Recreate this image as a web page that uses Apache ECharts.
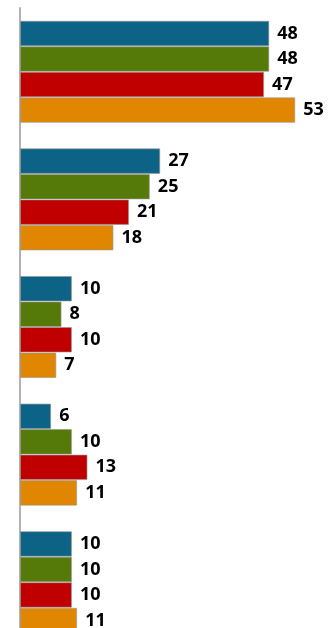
<!DOCTYPE html>
<html>
<head>
<meta charset="utf-8">
<script src="https://cdn.jsdelivr.net/npm/echarts@6/dist/echarts.min.js"></script>
<style>
  html, body { margin: 0; padding: 0; background: #fff; overflow: hidden; }
  #chart { width: 328px; height: 646px; }
</style>
</head>
<body>
<div id="chart"></div>
<script>
// Five groups, four series each (values in percent)
const categories = ['A', 'B', 'C', 'D', 'E'];
const seriesBlue   = [48, 27, 10, 6, 10];
const seriesGreen  = [48, 25, 8, 10, 10];
const seriesRed    = [47, 21, 10, 13, 10];
const seriesOrange = [53, 18, 7, 11, 11];

const palette = ['#0d6386', '#557a0a', '#c00000', '#e08600'];
const seriesData = [seriesBlue, seriesGreen, seriesRed, seriesOrange];

const chart = echarts.init(document.getElementById('chart'), null, { renderer: 'canvas' });

chart.setOption({
  animation: false,
  grid: { left: 20, right: 0, top: 8, bottom: 0, containLabel: false },
  xAxis: {
    type: 'value', min: 0, max: 59.3,
    show: false
  },
  yAxis: {
    type: 'category',
    data: categories,
    inverse: true,
    axisLine: { show: true, lineStyle: { color: '#b3b3b3', width: 2 } },
    axisTick: { show: false },
    axisLabel: { show: false },
    splitLine: { show: false }
  },
  series: seriesData.map((d, i) => ({
    type: 'bar',
    data: d,
    barGap: '0%',
    barCategoryGap: '20%',
    itemStyle: { color: palette[i], borderColor: 'rgba(150,150,150,0.6)', borderWidth: 1 },
    label: {
      show: true,
      position: 'right',
      distance: 8,
      color: '#000',
      fontFamily: '"Open Sans", sans-serif',
      fontWeight: 'bold',
      fontSize: 18
    }
  }))
});
</script>
</body>
</html>
